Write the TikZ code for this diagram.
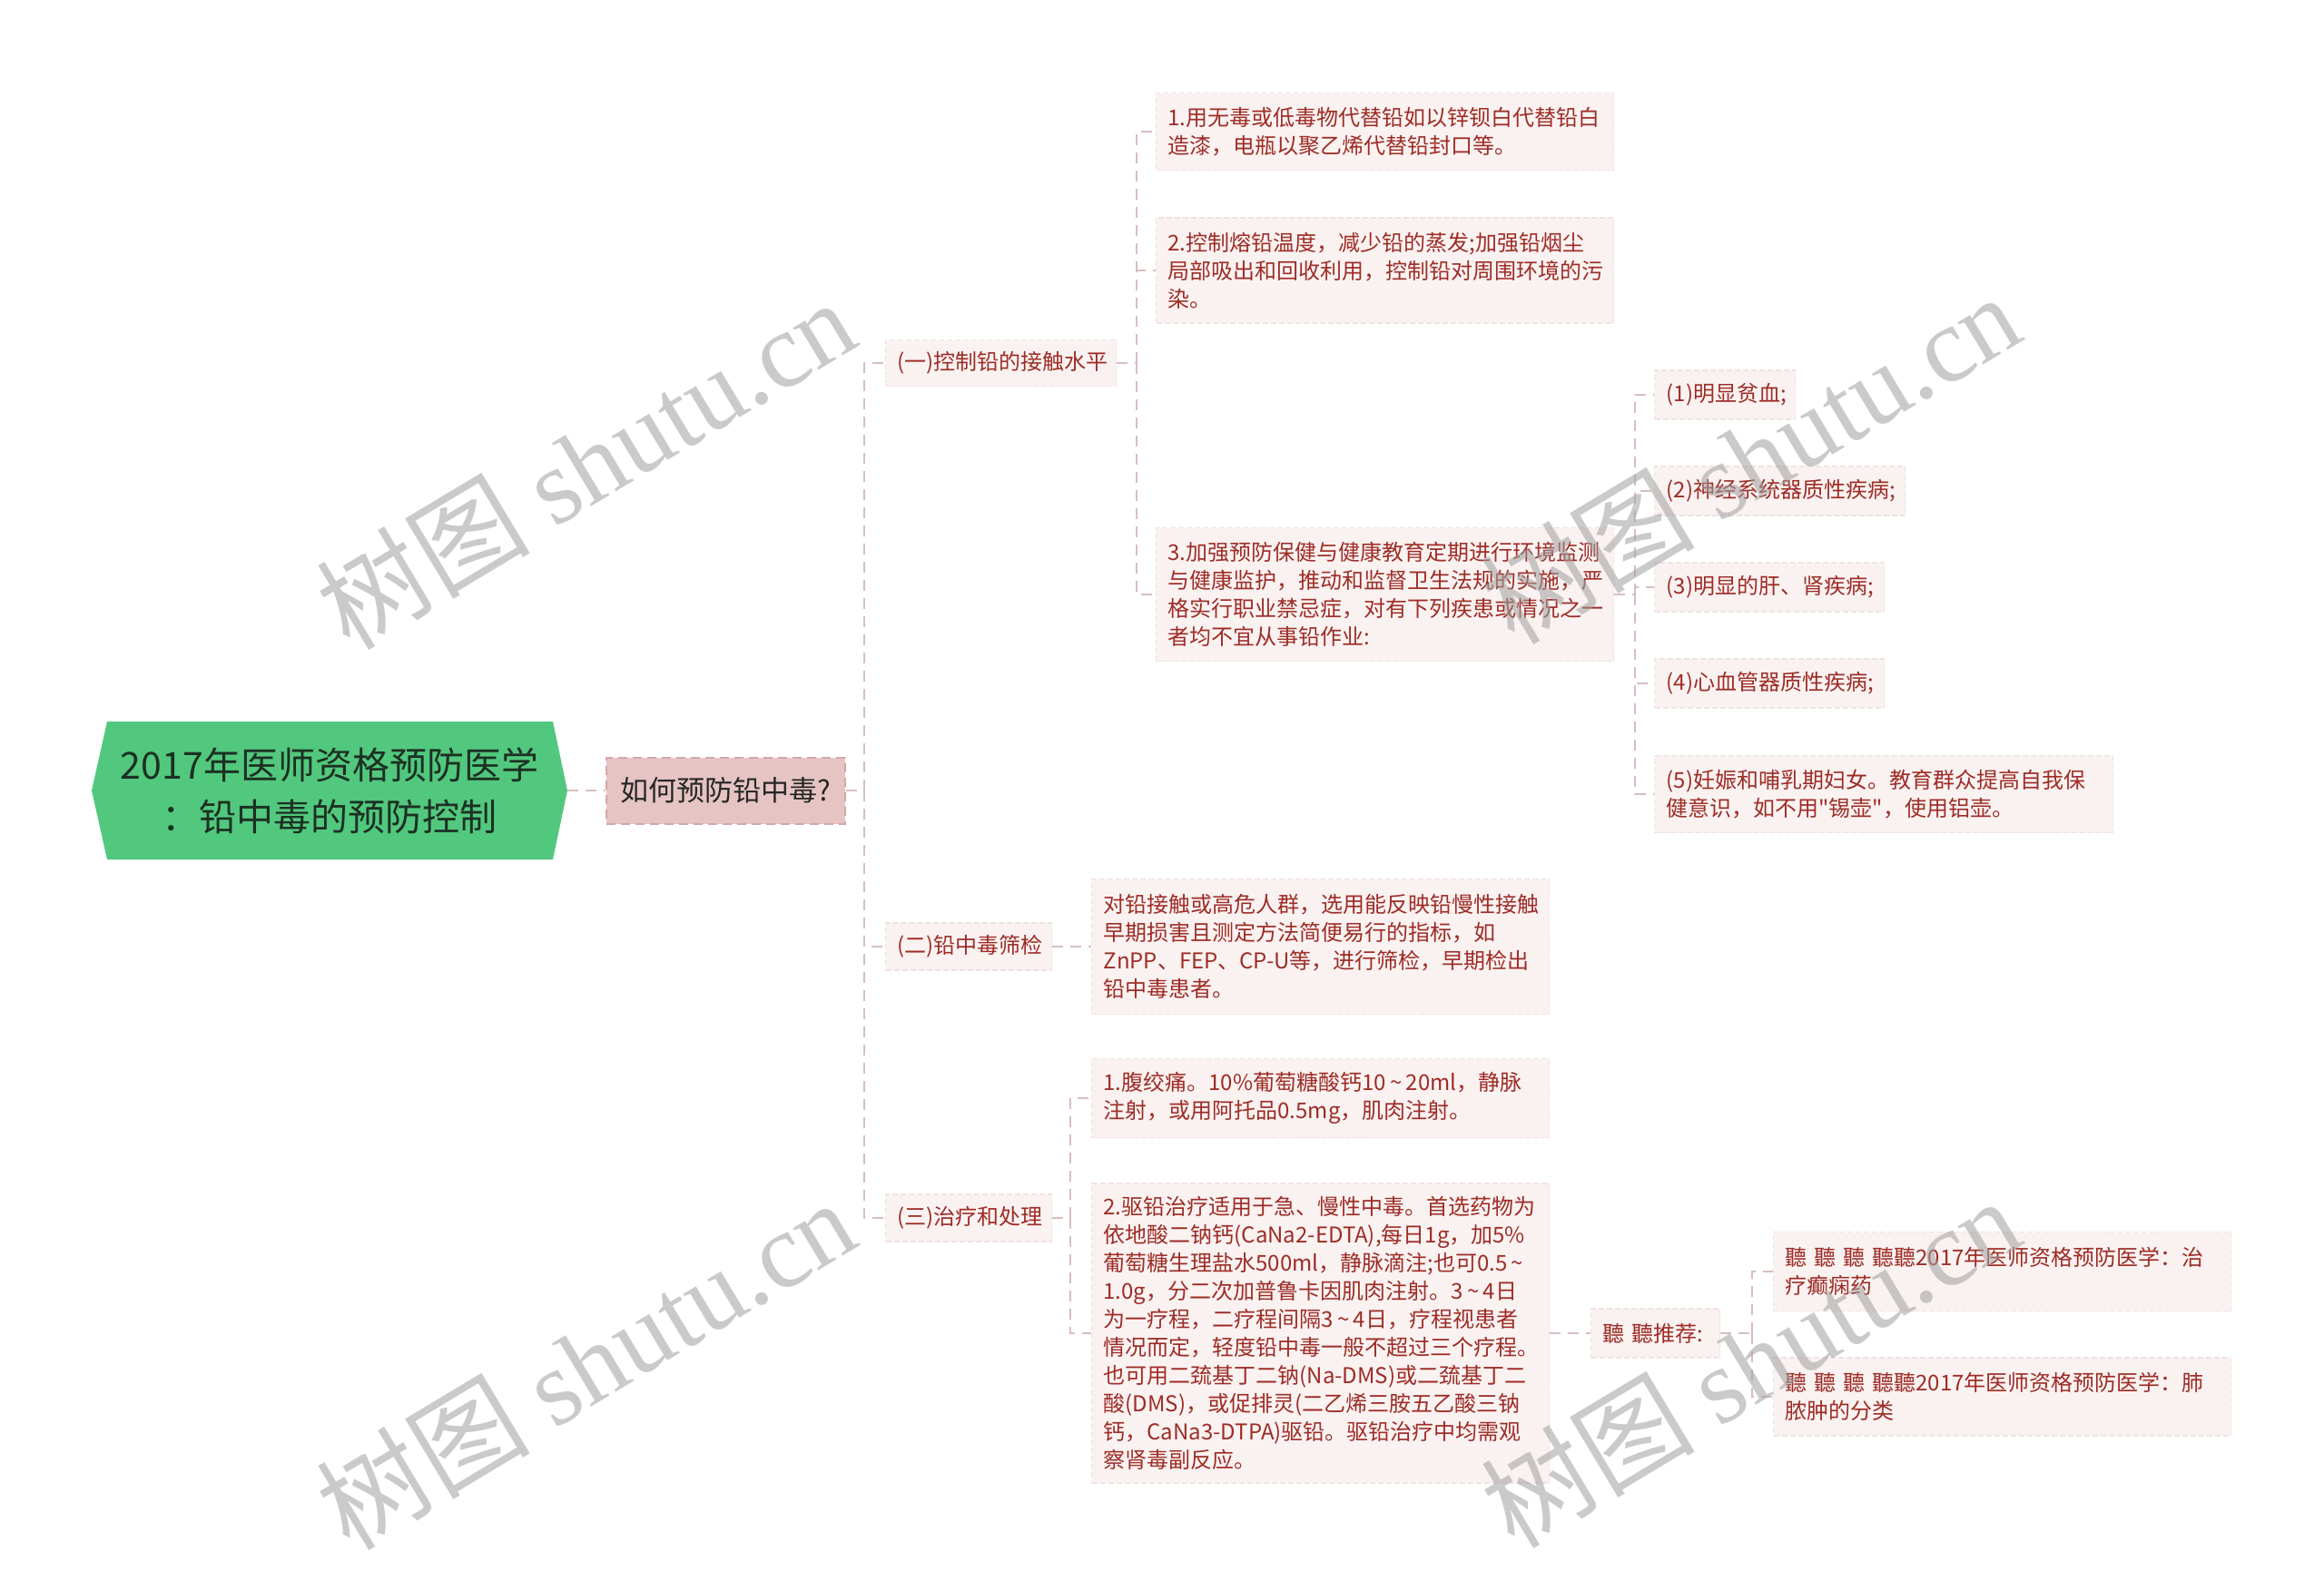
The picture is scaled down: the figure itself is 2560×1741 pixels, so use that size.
\documentclass[tikz,border=0pt]{standalone}
\usepackage{fontspec}
\setmainfont{Noto Sans CJK SC}
\newfontfamily\rawfont{Noto Sans CJK SC}
\newfontfamily\wmserif{Liberation Serif}
\usetikzlibrary{calc}
\definecolor{txtred}{RGB}{158,44,38}
\definecolor{boxfill}{RGB}{249,242,241}
\definecolor{boxedge}{RGB}{240,226,225}
\definecolor{conncol}{RGB}{216,190,190}
\definecolor{rootgreen}{RGB}{82,200,126}
\definecolor{roottxt}{RGB}{28,48,34}
\definecolor{qfill}{RGB}{230,196,196}
\definecolor{qedge}{RGB}{214,166,166}
\definecolor{wmcol}{RGB}{160,160,160}
\newcommand{\tld}{\hspace{0.18em}\char126\hspace{0.18em}}
\newcommand{\dq}{{\rawfont"}}
\begin{document}
\exhyphenpenalty=10000 \hyphenpenalty=10000 \relax
\begin{tikzpicture}[x=0.5pt,y=-0.5pt,
  conn/.style={draw=conncol,line width=1pt,dash pattern=on 6pt off 4pt},
  leaf/.style={anchor=west,fill=boxfill,draw=boxedge,line width=0.6pt,
    dash pattern=on 3pt off 1.5pt,text=txtred,
    font=\fontsize{12}{15.5}\selectfont,
    align=left,inner xsep=6.5pt,inner ysep=0pt},
  wmark/.style={rotate=31,text=wmcol,opacity=0.55,font=\fontsize{59}{59}\selectfont,inner sep=0pt}
]
\fill[white] (0,0) rectangle (2560,1741);
\useasboundingbox (0,0) rectangle (2560,1741);

% root
\fill[rootgreen] (101,871) -- (118,795) -- (609,795) -- (625,871) -- (609,947) -- (118,947) -- cycle;
\node[text=roottxt,font=\fontsize{20.5}{28.5}\selectfont,align=center,
  minimum width=262pt,minimum height=76pt,inner sep=0pt] (root) at (363,871)
  {2017年医师资格预防医学\\：铅中毒的预防控制};

\node[fill=qfill,draw=qedge,line width=1pt,dash pattern=on 5pt off 3pt,
  font=\fontsize{15.5}{18}\selectfont,text=black!85,
  minimum width=131.5pt,minimum height=36.5pt,inner sep=0pt] (q) at (799.5,871) {如何预防铅中毒?};

% level 2
\node[leaf,text width=114pt,minimum height=25.5pt] (c1) at (975,400) {(一)控制铅的接触水平};
\node[leaf,text width=78.5pt,minimum height=26pt] (c2) at (975,1043) {(二)铅中毒筛检};
\node[leaf,text width=78.5pt,minimum height=26pt] (c3) at (975,1342) {(三)治疗和处理};

% level 3 under c1
\node[leaf,text width=239pt,minimum height=42.5pt] (n1) at (1273,145)
  {1.用无毒或低毒物代替铅如以锌钡白代替铅白\\造漆，电瓶以聚乙烯代替铅封口等。};
\node[leaf,text width=239pt,minimum height=58pt] (n2) at (1273,298)
  {2.控制熔铅温度，减少铅的蒸发;加强铅烟尘\\局部吸出和回收利用，控制铅对周围环境的污\\染。};
\node[leaf,text width=239pt,minimum height=73.5pt] (n3) at (1273,655)
  {3.加强预防保健与健康教育定期进行环境监测\\与健康监护，推动和监督卫生法规的实施，严\\格实行职业禁忌症，对有下列疾患或情况之一\\者均不宜从事铅作业:};

% level 4 under n3
\node[leaf,text width=64.5pt,minimum height=27pt] (d1) at (1822,435) {(1)明显贫血;};
\node[leaf,text width=125pt,minimum height=27pt] (d2) at (1822,541) {(2)神经系统器质性疾病;};
\node[leaf,text width=113.5pt,minimum height=27pt] (d3) at (1822,647) {(3)明显的肝、肾疾病;};
\node[leaf,text width=113.5pt,minimum height=27pt] (d4) at (1822,753) {(4)心血管器质性疾病;};
\node[leaf,text width=239.5pt,minimum height=42.5pt] (d5) at (1822,875)
  {(5)妊娠和哺乳期妇女。教育群众提高自我保\\健意识，如不用\dq 锡壶\dq ，使用铝壶。};

% under c2
\node[leaf,text width=239pt,minimum height=74.5pt] (s1) at (1202,1043)
  {对铅接触或高危人群，选用能反映铅慢性接触\\早期损害且测定方法简便易行的指标，如\\ZnPP、FEP、CP-U等，进行筛检，早期检出\\铅中毒患者。};

% under c3
\node[leaf,text width=239pt,minimum height=43.5pt] (t1) at (1202,1210)
  {1.腹绞痛。10\%葡萄糖酸钙10\tld 20ml，静脉\\注射，或用阿托品0.5mg，肌肉注射。};
\node[leaf,text width=239pt,minimum height=165pt] (t2) at (1202,1469)
  {2.驱铅治疗适用于急、慢性中毒。首选药物为\\依地酸二钠钙(CaNa2-EDTA),每日1g，加5\%\\葡萄糖生理盐水500ml，静脉滴注;也可0.5\tld\\1.0g，分二次加普鲁卡因肌肉注射。3\tld 4日\\为一疗程，二疗程间隔3\tld 4日，疗程视患者\\情况而定，轻度铅中毒一般不超过三个疗程。\\也可用二巯基丁二钠(Na-DMS)或二巯基丁二\\酸(DMS)，或促排灵(二乙烯三胺五乙酸三钠\\钙，CaNa3-DTPA)驱铅。驱铅治疗中均需观\\察肾毒副反应。};

\node[leaf,text width=58pt,minimum height=27pt] (rec) at (1752,1469) {聽~聽推荐:};
\node[leaf,text width=239pt,minimum height=43.5pt] (r1) at (1953,1401)
  {聽~聽~聽~聽聽2017年医师资格预防医学：治\\疗癫痫药};
\node[leaf,text width=239pt,minimum height=43pt] (r2) at (1953,1539)
  {聽~聽~聽~聽聽2017年医师资格预防医学：肺\\脓肿的分类};

% junctions
\coordinate (J1) at (952,871);
\coordinate (J2) at (1252,400);
\coordinate (J3) at (1801,655);
\coordinate (J4) at (1179,1342);
\coordinate (J5) at (1930,1469);

% connectors
\draw[conn] (root.east) -- (q.west);
\draw[conn] (q.east) -- (J1);
\draw[conn] (J1) |- (c1.west);
\draw[conn] (J1) |- (c2.west);
\draw[conn] (J1) |- (c3.west);

\draw[conn] (c1.east) -- (J2);
\draw[conn] (J2) |- (n1.west);
\draw[conn] (J2) |- (n2.west);
\draw[conn] (J2) |- (n3.west);

\draw[conn] (n3.east) -- (J3);
\draw[conn] (J3) |- (d1.west);
\draw[conn] (J3) |- (d2.west);
\draw[conn] (J3) |- (d3.west);
\draw[conn] (J3) |- (d4.west);
\draw[conn] (J3) |- (d5.west);

\draw[conn] (c2.east) -- (s1.west);

\draw[conn] (c3.east) -- (J4);
\draw[conn] (J4) |- (t1.west);
\draw[conn] (J4) |- (t2.west);

\draw[conn] (t2.east) -- (rec.west);
\draw[conn] (rec.east) -- (J5);
\draw[conn] (J5) |- (r1.west);
\draw[conn] (J5) |- (r2.west);

% watermarks
\node[wmark] (wm1) at (645,510) {树图 {\wmserif shutu.cn}};
\node[wmark] (wm2) at (1928,504) {树图 {\wmserif shutu.cn}};
\node[wmark] (wm3) at (645,1502) {树图 {\wmserif shutu.cn}};
\node[wmark] (wm4) at (1928,1500) {树图 {\wmserif shutu.cn}};
\end{tikzpicture}
\end{document}
